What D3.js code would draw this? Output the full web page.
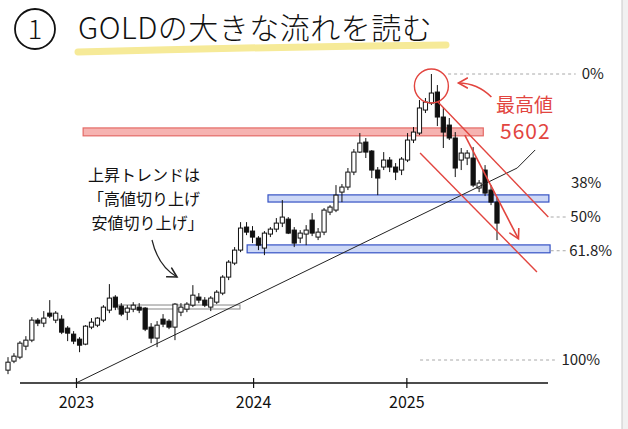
<!DOCTYPE html>
<html>
<head>
<meta charset="utf-8">
<script src="https://cdn.jsdelivr.net/npm/d3@7"></script>
<style>
  body { margin: 0; background: #fff; }
  svg { display: block; font-family: "Noto Sans CJK JP", "Noto Sans", sans-serif; }
</style>
</head>
<body>
<div id="chart"></div>
<script>
// candles: [open, high, low, close], oldest first
var candles = [
  [1665,1838,1612,1771],[1785,1891,1758,1851],[1838,2051,1811,2024],[1984,2117,1931,2064],
  [2064,2370,2037,2330],[2330,2357,2250,2290],[2290,2450,2237,2357],[2423,2596,2357,2383],
  [2330,2450,2290,2423],[2343,2396,2144,2170],[2224,2250,2051,2157],[2144,2184,2011,2051],
  [2077,2104,1904,1997],[2011,2263,1997,2250],[2237,2357,2210,2303],[2263,2370,2237,2357],
  [2330,2529,2303,2503],[2463,2809,2423,2623],[2636,2662,2463,2503],[2516,2556,2383,2410],
  [2436,2529,2330,2490],[2476,2569,2436,2529],[2503,2556,2423,2463],[2490,2503,2184,2210],
  [2237,2290,2024,2091],[2091,2317,1971,2263],[2343,2410,2237,2277],[2317,2343,2210,2237],
  [2237,2556,2064,2543],[2436,2556,2383,2503],[2476,2569,2436,2543],[2529,2795,2503,2662],
  [2636,2689,2556,2596],[2596,2636,2503,2529],[2503,2649,2450,2623],[2569,2729,2543,2702],
  [2689,2928,2662,2902],[2902,3128,2862,3101],[3088,3301,3061,3261],[3261,3633,3234,3554],
  [3567,3633,3460,3500],[3514,3580,3354,3434],[3421,3447,3261,3327],[3288,3514,3194,3487],
  [3474,3567,3434,3540],[3540,3687,3500,3620],[3620,3926,3567,3700],[3673,3700,3474,3487],
  [3527,3567,3301,3354],[3421,3527,3354,3487],[3474,3593,3327,3527],[3660,3753,3447,3487],
  [3434,3554,3394,3500],[3500,3820,3460,3793],[3766,3859,3726,3833],[3793,4125,3766,3992],
  [4032,4139,3899,4099],[4099,4352,4059,4298],[4298,4604,4258,4564],[4564,4817,4551,4684],
  [4697,4751,4485,4564],[4578,4591,4219,4325],[4325,4365,3992,4219],[4365,4564,4325,4458],
  [4458,4498,4298,4365],[4365,4418,4192,4298],[4325,4498,4258,4471],[4458,4817,4431,4724],
  [4724,4897,4684,4830],[4817,5256,4790,5150],[5123,5283,5083,5229],[5216,5602,5189,5349],
  [5362,5455,4910,5030],[5030,5163,4618,4830],[4923,5017,4724,4751],[4751,4830,4232,4352],
  [4458,4618,4325,4551],[4485,4591,4391,4551],[4485,4631,4099,4125],[4086,4192,4032,4152],
  [4325,4391,3979,4019],[4059,4125,3859,3899],[3899,3966,3394,3620]
];

// year ticks, positioned on the candle index axis
var yearLabels = ["2023", "2024", "2025"];
var yearAt = [11.4, 41.1, 66.8];

// fibonacci retracement from the swing low to the all-time high
var swingHigh = 5602;
var swingLow = 1800;
var fibRatios = [0, 0.382, 0.5, 0.618, 1];
var fibLabels = ["0%", "38%", "50%", "61.8%", "100%"];

// zones: [startIndex, endIndex, lowPrice, highPrice]
var redZone = [12.6, 79.7, 4780, 4885];
var blueZones = [[43.6, 90.7, 3900, 3995], [40.1, 90.9, 3225, 3330]];
var rangeBox = [18.4, 38.9, 2478, 2531];

// hand-drawn lines: [index, price] points
var trendLine = [[11.4, 1494], [85.4, 4353], [88.4, 4592]];
var channelTop = [[72.1, 5230], [90.6, 3701]];
var channelBottom = [[69.1, 4552], [88.7, 2970]];
var downArrow = [[76.6, 4790], [85.6, 3410]];

var title = "GOLDの大きな流れを読む";
var noteLines = ["上昇トレンドは", "「高値切り上げ", " 安値切り上げ」"];
var highLabel = ["最高値", "5602"];

var W = 628, H = 429;
var red = "#e2453f";

var svg = d3.select("#chart")
  .append("svg")
    .attr("width", W)
    .attr("height", H);

var defs = svg.append("defs");
function arrowMarker(id, color) {
  defs.append("marker")
    .attr("id", id)
    .attr("viewBox", "-10 -6 12 12")
    .attr("refX", 0).attr("refY", 0)
    .attr("markerWidth", 12).attr("markerHeight", 12)
    .attr("markerUnits", "userSpaceOnUse")
    .attr("orient", "auto")
    .append("path")
      .attr("d", "M-9,-5 L0,0 L-9,5")
      .attr("fill", "none")
      .attr("stroke", color)
      .attr("stroke-width", 1.6)
      .attr("stroke-linecap", "round");
}
arrowMarker("arrRed", red);
arrowMarker("arrBlack", "#222");

// page edge on the right
svg.append("rect").attr("x", 622).attr("y", 0).attr("width", 6).attr("height", H).attr("fill", "#f1f1f1");
svg.append("line").attr("x1", 622).attr("x2", 622).attr("y1", 0).attr("y2", H)
  .attr("stroke", "#c9c9c9").attr("stroke-width", 1);

// Title
svg.append("path")
  .attr("d", "M78,52 Q260,47 446,45")
  .attr("stroke", "#f6ea98")
  .attr("stroke-width", 7)
  .attr("stroke-linecap", "round")
  .attr("fill", "none");
svg.append("circle").attr("cx", 35).attr("cy", 29).attr("r", 20)
  .attr("fill", "none").attr("stroke", "#111").attr("stroke-width", 1.8);
svg.append("text").attr("x", 35).attr("y", 39).attr("text-anchor", "middle")
  .style("font-size", "27px").style("font-weight", 300).style("fill", "#111").text("1");
svg.append("text").attr("x", 78).attr("y", 39)
  .style("font-size", "30px").style("font-weight", 300).style("fill", "#111").style("letter-spacing", "0.5px")
  .text(title);

var x = d3.scaleLinear()
  .domain([0, candles.length - 1])
  .range([8, 497]);

var y = d3.scaleLinear()
  .domain([swingLow, swingHigh])
  .range([360, 74]);

// zones
function zone(z, fill, stroke) {
  svg.append("rect")
    .attr("x", x(z[0]))
    .attr("y", y(z[3]))
    .attr("width", x(z[1]) - x(z[0]))
    .attr("height", y(z[2]) - y(z[3]))
    .attr("fill", fill)
    .attr("stroke", stroke)
    .attr("stroke-width", 1.2);
}
zone(redZone, "#f6b3b1", "#e46a66");
blueZones.forEach(function(z) { zone(z, "#cdd8f6", "#3552c4"); });
zone(rangeBox, "none", "#9a9a9a");

// fib levels
var fibDash = [[73.8, 95.2], null, [91.0, 93.8], [91.0, 93.8], [69.1, 91.7]];
var fibLabelAt = [96.2, 94.4, 94.3, 94.1, 92.8];
fibRatios.forEach(function(r, i) {
  var price = swingHigh - (swingHigh - swingLow) * r;
  if (fibDash[i]) {
    svg.append("line")
      .attr("x1", x(fibDash[i][0])).attr("x2", x(fibDash[i][1]))
      .attr("y1", y(price)).attr("y2", y(price))
      .attr("stroke", "#a8a8a8").attr("stroke-dasharray", "3,3").attr("stroke-width", 1);
  }
  svg.append("text")
    .attr("x", x(fibLabelAt[i]))
    .attr("y", y(price) + 5)
    .style("font-size", "15px")
    .style("fill", "#222")
    .text(fibLabels[i]);
});

// candles
var bodyW = 4.2;
var candle = svg.append("g").selectAll("g")
  .data(candles)
  .enter().append("g");
candle.append("line")
  .attr("x1", function(d, i) { return x(i); })
  .attr("x2", function(d, i) { return x(i); })
  .attr("y1", function(d) { return y(d[1]); })
  .attr("y2", function(d) { return y(d[2]); })
  .attr("stroke", "#111")
  .attr("stroke-width", 1);
candle.append("rect")
  .attr("x", function(d, i) { return x(i) - bodyW / 2; })
  .attr("y", function(d) { return y(Math.max(d[0], d[3])); })
  .attr("width", bodyW)
  .attr("height", function(d) { return Math.max(1.5, Math.abs(y(d[0]) - y(d[3]))); })
  .attr("fill", function(d) { return d[3] >= d[0] ? "#fff" : "#111"; })
  .attr("stroke", "#111")
  .attr("stroke-width", 1);

var line = d3.line()
  .x(function(d) { return x(d[0]); })
  .y(function(d) { return y(d[1]); });

// rising trend line
svg.append("path")
  .datum(trendLine)
  .attr("d", line)
  .attr("fill", "none")
  .attr("stroke", "#222")
  .attr("stroke-width", 1)
  .attr("stroke-linejoin", "round");

// descending channel and arrow
[channelTop, channelBottom].forEach(function(pts) {
  svg.append("path").datum(pts).attr("d", line)
    .attr("fill", "none").attr("stroke", red).attr("stroke-width", 1.4);
});
svg.append("path").datum(downArrow).attr("d", line)
  .attr("fill", "none").attr("stroke", red).attr("stroke-width", 1.6)
  .attr("marker-end", "url(#arrRed)");

// circle on the all-time high
var peakIdx = candles.findIndex(function(d) { return d[1] === swingHigh; });
var cx = x(peakIdx), cy = y(swingHigh) + 12;
svg.append("circle").attr("cx", cx).attr("cy", cy).attr("r", 17)
  .attr("fill", "none").attr("stroke", red).attr("stroke-width", 1.4);
svg.append("path")
  .attr("d", "M" + (cx + 60) + "," + (cy + 11) + " Q" + (cx + 46) + "," + (cy - 3) + " " + (cx + 27) + "," + (cy - 3))
  .attr("fill", "none").attr("stroke", red).attr("stroke-width", 1.6)
  .attr("marker-end", "url(#arrRed)");
svg.append("text").attr("x", 496).attr("y", 112)
  .style("font-size", "19px").style("fill", red).text(highLabel[0]);
svg.append("text").attr("x", 500).attr("y", 139)
  .style("font-size", "21px").style("fill", red).style("letter-spacing", "1px").text(highLabel[1]);

// note on the uptrend
svg.append("g").selectAll("text")
  .data(noteLines)
  .enter().append("text")
    .attr("x", 88)
    .attr("y", function(d, i) { return 181 + i * 24; })
    .style("font-size", "16px")
    .style("fill", "#111")
    .style("white-space", "pre")
    .text(function(d) { return d; });
svg.append("path")
  .attr("d", "M152,240 Q158,266 177,277")
  .attr("fill", "none").attr("stroke", "#222").attr("stroke-width", 1.2)
  .attr("marker-end", "url(#arrBlack)");

// time axis
var axisY = 383;
svg.append("line")
  .attr("x1", 20).attr("x2", 548)
  .attr("y1", axisY).attr("y2", axisY)
  .attr("stroke", "#111").attr("stroke-width", 1.3);
var xAxis = svg.append("g")
  .attr("transform", "translate(0," + (axisY - 5) + ")")
  .call(d3.axisBottom(x)
    .tickValues(yearAt)
    .tickFormat(function(d, i) { return yearLabels[i]; })
    .tickSize(10)
    .tickPadding(9));
xAxis.select(".domain").remove();
xAxis.selectAll(".tick line").attr("stroke", "#111").attr("stroke-width", 1.2);
xAxis.selectAll("text")
  .style("font-family", "\"Noto Sans CJK JP\", sans-serif")
  .style("font-size", "16px")
  .style("fill", "#111");
</script>
</body>
</html>
